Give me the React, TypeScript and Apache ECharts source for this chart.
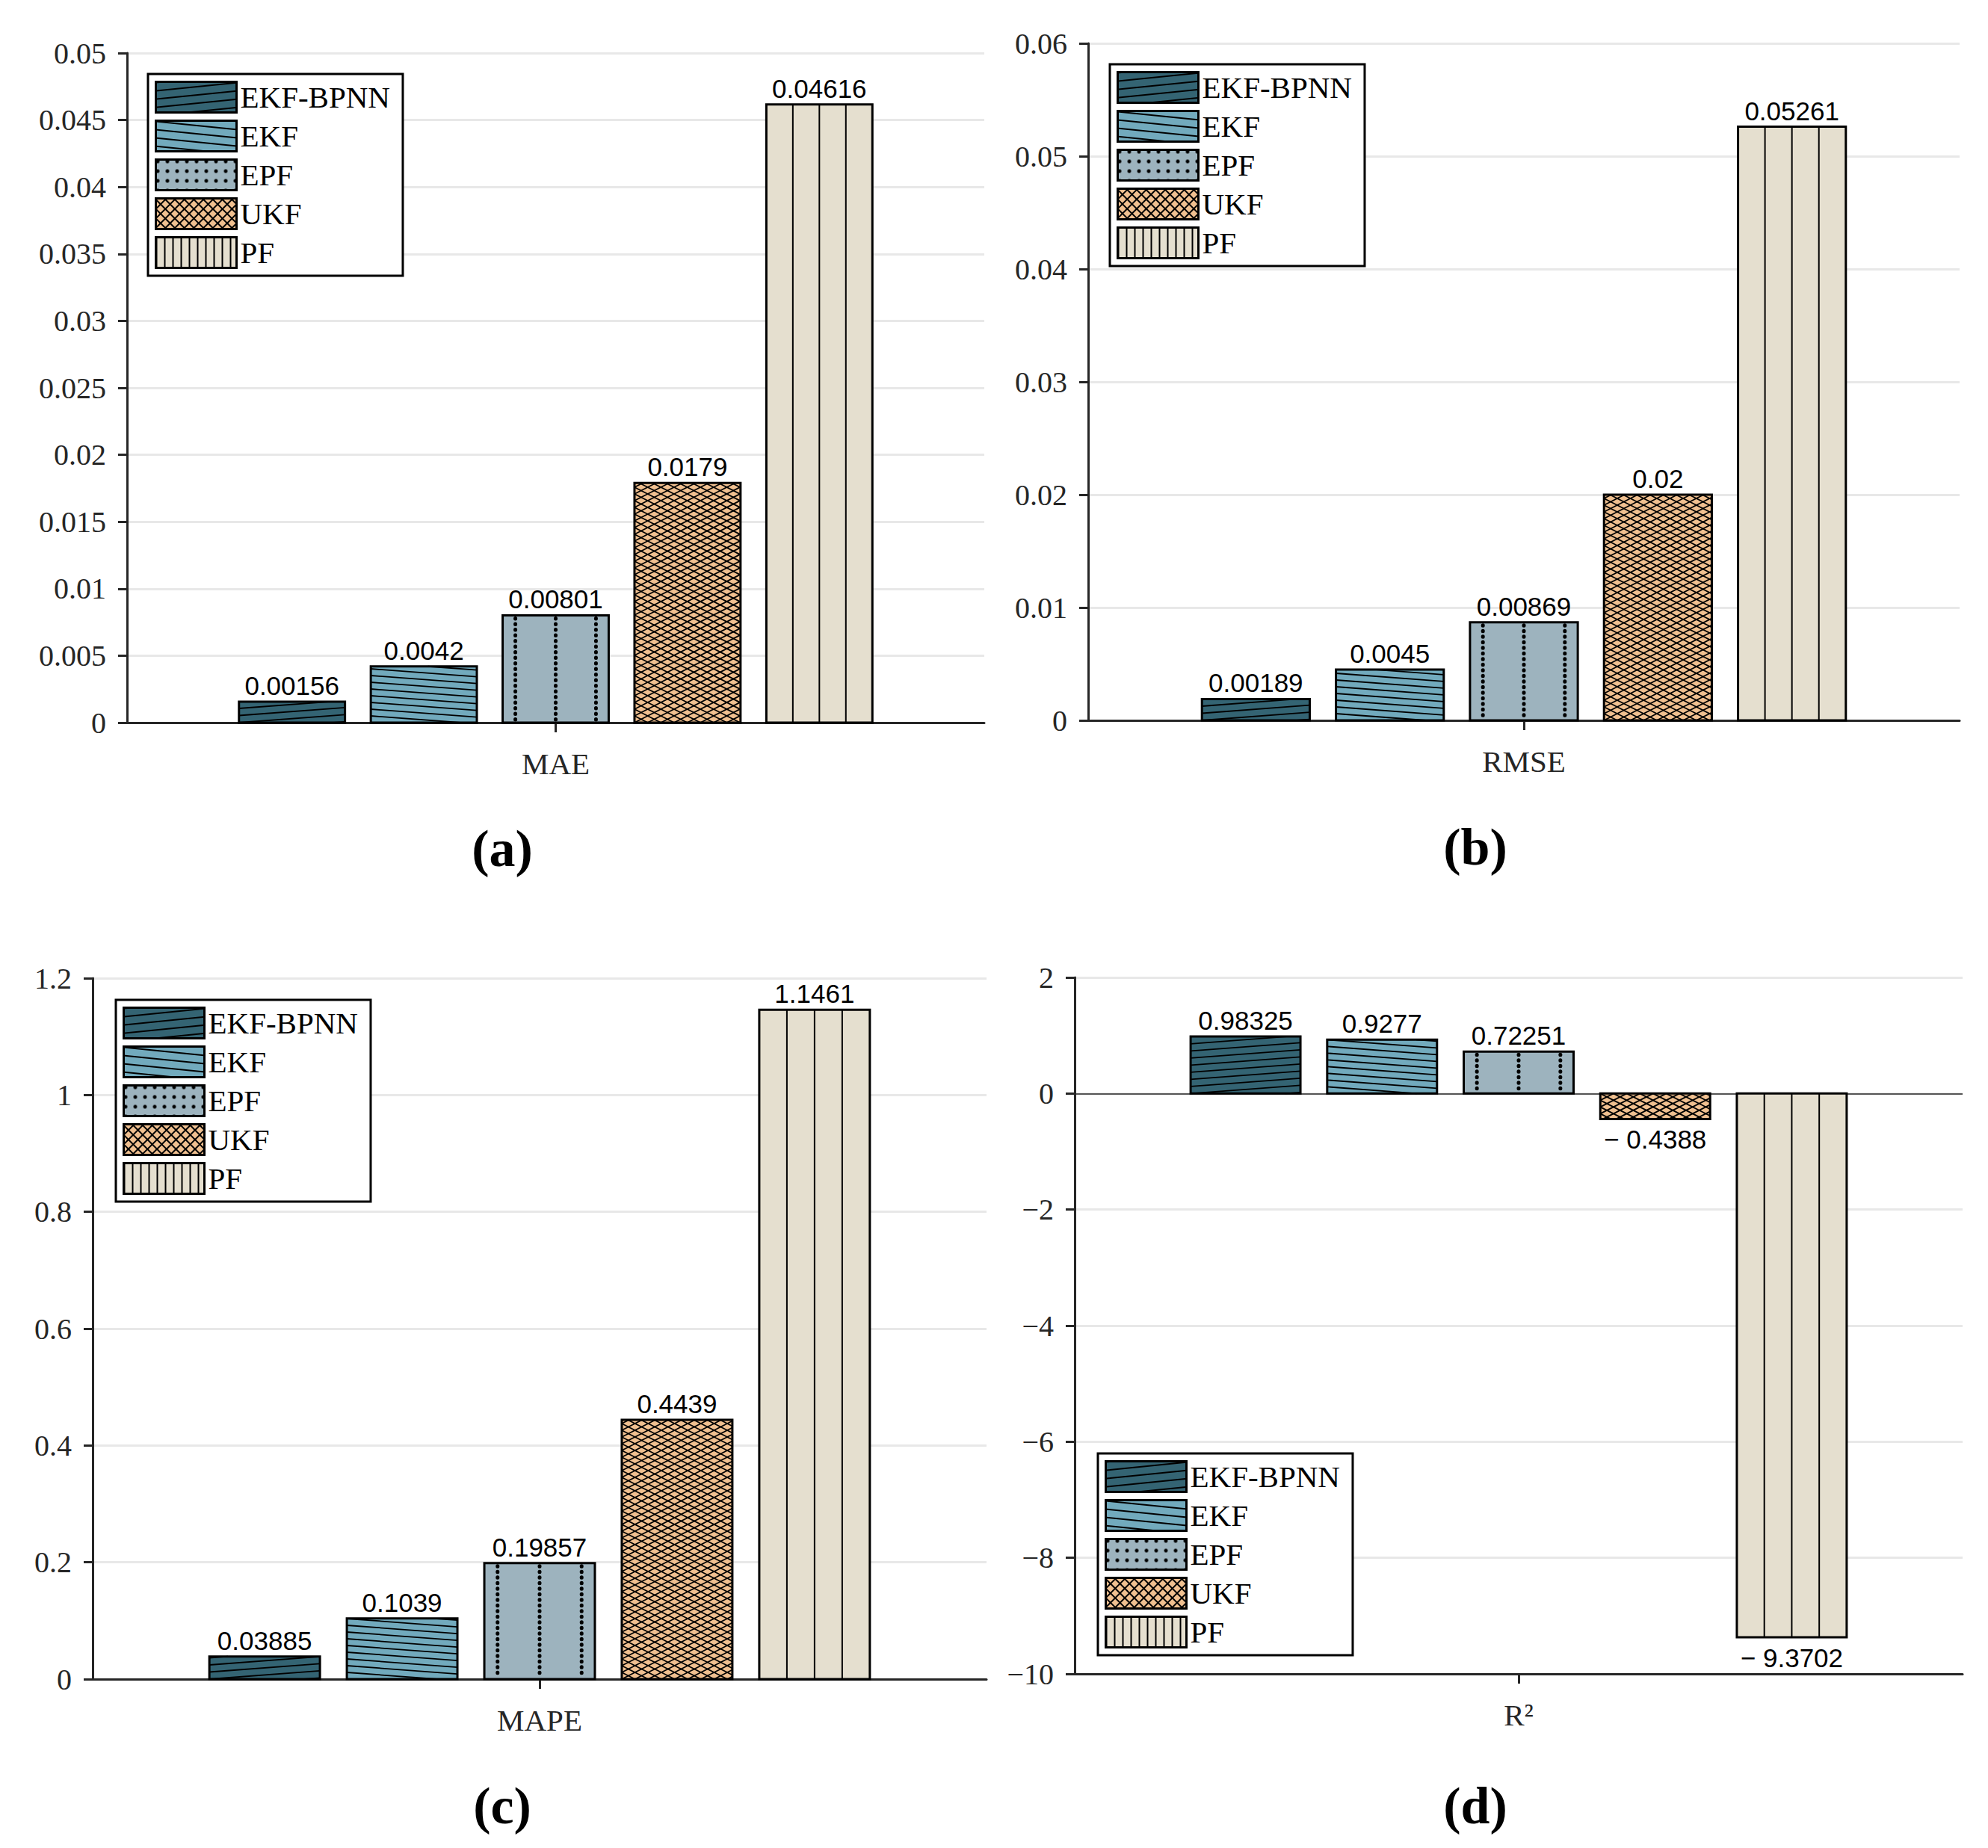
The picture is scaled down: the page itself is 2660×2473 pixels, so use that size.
import React, { useEffect, useRef } from 'react';
import * as echarts from 'echarts';

// methods and their fill colours
const methods = ['EKF-BPNN', 'EKF', 'EPF', 'UKF', 'PF'];
const fillColors = ['#346473', '#72AABD', '#9DB3BE', '#F0C090', '#E5DFCF'];

// values
const maeValues = [0.00156, 0.0042, 0.00801, 0.0179, 0.04616];
const rmseValues = [0.00189, 0.0045, 0.00869, 0.02, 0.05261];
const mapeValues = [0.03885, 0.1039, 0.19857, 0.4439, 1.1461];
const r2Values = [0.98325, 0.9277, 0.72251, -0.4388, -9.3702];

const metricNames = ['MAE', 'RMSE', 'MAPE', 'R²'];
const captions = ['(a)', '(b)', '(c)', '(d)'];

// y axis ranges
const yMins = [0, 0, 0, -10];
const yMaxs = [0.05, 0.06, 1.2, 2];
const yIntervals = [0.005, 0.01, 0.2, 2];

// layout (pixels)
const gridBoxes = [
  { left: 170, top: 71, width: 1147, height: 896 },
  { left: 1456, top: 58, width: 1166, height: 906 },
  { left: 124, top: 1309, width: 1196, height: 938 },
  { left: 1438, top: 1308, width: 1188, height: 932 },
];
const legendBoxes = [
  { left: 198, top: 99 },
  { left: 1485, top: 86 },
  { left: 155, top: 1338 },
  { left: 1469, top: 1945 },
];
const captionSpots = [
  [672, 1135],
  [1974, 1133],
  [672, 2416],
  [1974, 2416],
];

const BAR_WIDTH = 0.1237; // share of the category band
const BAR_PITCH = 0.1538;
const AXIS_COLOR = '#262626';
const SERIF = '"Liberation Serif", "Times New Roman", serif';
const SANS = '"Liberation Sans", Arial, sans-serif';

const legendDecals: any[] = [
  { symbol: 'rect', symbolSize: 1, dashArrayX: [1, 0], dashArrayY: [2, 9], rotation: -0.1, color: '#000' },
  { symbol: 'rect', symbolSize: 1, dashArrayX: [1, 0], dashArrayY: [2, 9], rotation: 0.1, color: '#000' },
  { symbol: 'circle', symbolSize: 1, dashArrayX: [5, 8], dashArrayY: [5, 8], color: '#000' },
  // black grid, turned 45 degrees -> diamond lattice
  {
    symbol: 'rect',
    symbolSize: 1,
    dashArrayX: [
      [1, 0],
      [2, 7],
    ],
    dashArrayY: [2, 0, 7, 0],
    rotation: Math.PI / 4,
    color: '#000',
  },
  { symbol: 'rect', symbolSize: 1, dashArrayX: [2, 9], dashArrayY: [1, 0], color: '#000' },
];

const fmtValue = (v: number) => (v < 0 ? '\u2212 ' + String(-v) : String(v));
const fmtTick = (v: number) => {
  const r = parseFloat(v.toFixed(4));
  return r < 0 ? '\u2212' + String(-r) : String(r);
};

// slanted hatch lines y = b + slope * (x - x0), clipped to the bar
function slantLines(x0: number, y0: number, x1: number, y1: number, slope: number, step: number, anchor: number) {
  const w = x1 - x0;
  const rise = slope * w;
  const out: { x1: number; y1: number; x2: number; y2: number }[] = [];
  const bMin = Math.min(y0, y0 - rise) - step;
  const bMax = Math.max(y1, y1 - rise) + step;
  const start = anchor - Math.ceil((anchor - bMin) / step) * step;
  for (let b = start; b <= bMax; b += step) {
    let ta = (y0 - b) / rise;
    let tb = (y1 - b) / rise;
    if (ta > tb) [ta, tb] = [tb, ta];
    const t0 = Math.max(0, ta);
    const t1 = Math.min(1, tb);
    if (t1 <= t0) continue;
    out.push({ x1: x0 + w * t0, y1: b + rise * t0, x2: x0 + w * t1, y2: b + rise * t1 });
  }
  return out;
}

const makeRenderItem = (k: number) => (params: any, api: any) => {
  const v = api.value(1);
  const top = api.coord([0, v]);
  const base = api.coord([0, 0]);
  const band = api.size([1, 0])[0];
  const cx = top[0] + (k - 2) * BAR_PITCH * band;
  const w = BAR_WIDTH * band;
  const x0 = cx - w / 2;
  const x1 = cx + w / 2;
  const y0 = Math.min(top[1], base[1]);
  const y1 = Math.max(top[1], base[1]);
  const h = y1 - y0;
  const children: any[] = [
    { type: 'rect', shape: { x: x0, y: y0, width: w, height: h }, style: { fill: fillColors[k] } },
  ];
  const line = (s: any, style: any) => children.push({ type: 'line', shape: s, style: { stroke: '#000', ...style } });

  if (k === 0) {
    slantLines(x0, y0, x1, y1, -0.075, 9.5, base[1]).forEach((s) => line(s, { lineWidth: 1.8 }));
  } else if (k === 1) {
    slantLines(x0, y0, x1, y1, 0.075, 9, base[1]).forEach((s) => line(s, { lineWidth: 1.8 }));
  } else if (k === 2) {
    [0.12, 0.5, 0.88].forEach((f) =>
      line(
        { x1: x0 + w * f, y1: y0 + 4, x2: x0 + w * f, y2: y1 - 2 },
        { lineWidth: 5, lineDash: [0.5, 7], lineCap: 'round' }
      )
    );
  } else if (k === 3) {
    slantLines(x0, y0, x1, y1, 0.51, 9, base[1]).forEach((s) => line(s, { lineWidth: 1.8 }));
    slantLines(x0, y0, x1, y1, -0.51, 9, base[1]).forEach((s) => line(s, { lineWidth: 1.8 }));
  } else {
    [0.25, 0.5, 0.75].forEach((f) =>
      line({ x1: x0 + w * f, y1: y0, x2: x0 + w * f, y2: y1 }, { lineWidth: 2 })
    );
  }

  children.push({
    type: 'rect',
    shape: { x: x0, y: y0, width: w, height: h },
    style: { fill: 'none', stroke: '#000', lineWidth: 3 },
  });
  children.push({
    type: 'text',
    x: cx,
    y: v >= 0 ? y0 - 4 : y1 + 10,
    style: {
      text: fmtValue(v),
      fill: '#000',
      fontSize: 35,
      fontFamily: SANS,
      align: 'center',
      verticalAlign: v >= 0 ? 'bottom' : 'top',
    },
  });
  return { type: 'group', children };
};

const allValues = [maeValues, rmseValues, mapeValues, r2Values];

function buildOption() {
  const grid = gridBoxes.map((g) => ({ ...g }));

  const xAxis = metricNames.map((name, p) => ({
    type: 'category',
    gridIndex: p,
    data: [name],
    boundaryGap: true,
    axisLine: { show: true, onZero: false, lineStyle: { color: AXIS_COLOR, width: 3 } },
    axisTick: { show: true, alignWithLabel: true, length: 13, lineStyle: { color: AXIS_COLOR, width: 3 } },
    axisLabel: { color: AXIS_COLOR, fontSize: 41, fontFamily: SERIF, margin: 34 },
    splitLine: { show: false },
  }));

  const yAxis = yMins.map((mn, p) => ({
    type: 'value',
    gridIndex: p,
    min: mn,
    max: yMaxs[p],
    interval: yIntervals[p],
    axisLine: { show: true, lineStyle: { color: AXIS_COLOR, width: 3 } },
    axisTick: { show: true, length: 12, lineStyle: { color: AXIS_COLOR, width: 3 } },
    axisLabel: { color: AXIS_COLOR, fontSize: 40, fontFamily: SERIF, margin: 28, formatter: fmtTick },
    splitLine: { show: true, lineStyle: { color: '#E8E8E8', width: 3 } },
  }));

  const series: any[] = [];
  allValues.forEach((vals, p) => {
    methods.forEach((m, k) => {
      const s: any = {
        type: 'custom',
        name: m,
        xAxisIndex: p,
        yAxisIndex: p,
        data: [[0, vals[k]]],
        encode: { x: 0, y: 1 },
        itemStyle: { color: fillColors[k], borderColor: '#000', borderWidth: 3, decal: legendDecals[k] },
        renderItem: makeRenderItem(k),
        z: 3,
      };
      if (p === 3 && k === 0) {
        s.markLine = {
          silent: true,
          symbol: 'none',
          label: { show: false },
          lineStyle: { color: AXIS_COLOR, width: 1.5, type: 'solid' },
          data: [{ yAxis: 0 }],
          z: 2,
        };
      }
      series.push(s);
    });
  });

  const legend = legendBoxes.map((b) => ({
    orient: 'vertical',
    left: b.left,
    top: b.top,
    icon: 'rect',
    itemWidth: 108,
    itemHeight: 41,
    itemGap: 8,
    padding: [9, 17, 9, 9],
    borderColor: '#000',
    borderWidth: 3,
    backgroundColor: '#fff',
    selectedMode: false,
    itemStyle: { borderColor: '#000', borderWidth: 3 },
    textStyle: { color: '#000', fontSize: 41, fontFamily: SERIF },
    data: methods.map((m, k) => ({ name: m, itemStyle: { decal: legendDecals[k] } })),
  }));

  const graphic = captions.map((c, p) => ({
    type: 'text',
    x: captionSpots[p][0],
    y: captionSpots[p][1],
    style: {
      text: c,
      fill: '#000',
      fontSize: 70,
      fontWeight: 'bold',
      fontFamily: SERIF,
      align: 'center',
      verticalAlign: 'middle',
    },
  }));

  return {
    animation: false,
    backgroundColor: '#fff',
    grid,
    xAxis,
    yAxis,
    legend,
    series,
    graphic,
  };
}

const App: React.FC = () => {
  const chartRef = useRef<HTMLDivElement>(null);

  useEffect(() => {
    document.body.style.margin = '0';
    if (!chartRef.current) return;
    const chart = echarts.init(chartRef.current, null, { renderer: 'svg' });
    chart.setOption(buildOption() as any);
    return () => {
      chart.dispose();
    };
  }, []);

  return <div ref={chartRef} style={{ width: '2660px', height: '2473px' }} />;
};

export default App;
